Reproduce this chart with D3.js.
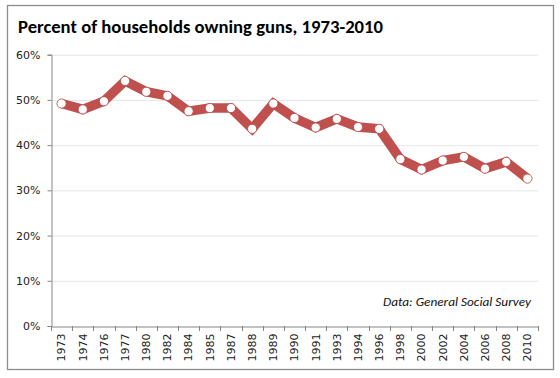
<!DOCTYPE html>
<html><head><meta charset="utf-8">
<script src="https://cdn.jsdelivr.net/npm/d3@7"></script>
<style>body{margin:0;background:#fff}svg{display:block}</style>
</head><body>
<svg id="c" width="560" height="378"></svg>
<script>
const years = ["1973","1974","1976","1977","1980","1982","1984","1985","1987","1988","1989","1990","1991","1993","1994","1996","1998","2000","2002","2004","2006","2008","2010"];
const values = [49.2,47.9,49.7,54.2,51.8,50.9,47.5,48.2,48.2,43.6,49.2,46.0,43.9,45.8,44.0,43.6,36.9,34.6,36.6,37.4,34.8,36.3,32.6];
const yTicks = [0,10,20,30,40,50,60];
const title = "Percent of households owning guns, 1973-2010";
const note = "Data: General Social Survey";

const svg = d3.select("#c");
svg.append("rect").attr("x",7.5).attr("y",5.5).attr("width",546).attr("height",364)
  .attr("fill","#fff").attr("stroke","#8c8c8c").attr("stroke-width",1.3);

const m = {l:51, r:538, t:54.7, b:326};
const x = d3.scaleBand().domain(years).range([m.l, m.r]);
const y = d3.scaleLinear().domain([0,60]).range([m.b, m.t]);

svg.append("text").attr("x",18).attr("y",33).text(title)
  .attr("font-family","Carlito, Lato, 'Open Sans', sans-serif").attr("font-weight","bold")
  .attr("font-size",18).attr("textLength",365).attr("lengthAdjust","spacingAndGlyphs").attr("fill","#000");

// gridlines
svg.append("g").selectAll("line").data(yTicks.filter(d=>d>0)).join("line")
  .attr("x1",m.l).attr("x2",m.r).attr("y1",d=>y(d)+0.5).attr("y2",d=>y(d)+0.5)
  .attr("stroke","#e6e6e6").attr("stroke-width",1);

// y axis
const ya = svg.append("g").attr("transform",`translate(${m.l+0.5},0)`)
  .call(d3.axisLeft(y).tickValues(yTicks).tickFormat(d=>d+"%").tickSize(4).tickPadding(7));
ya.select(".domain").attr("stroke","#868686");
ya.selectAll(".tick line").attr("stroke","#868686");
ya.selectAll("text").attr("font-family","Tahoma, 'DejaVu Sans', sans-serif").attr("font-size",11).attr("fill","#222");

// x axis
const xa = svg.append("g").attr("transform",`translate(0,${m.b+0.5})`)
  .call(d3.axisBottom(x).tickSize(0).tickPadding(0));
xa.select(".domain").attr("stroke","#868686");
xa.selectAll(".tick line").remove();
xa.selectAll(".tick text").attr("transform","rotate(-90)").attr("text-anchor","end")
  .attr("x",-7).attr("y",0).attr("dy","0.35em")
  .attr("font-family","Tahoma, 'DejaVu Sans', sans-serif").attr("font-size",11).attr("fill","#222");
const bounds = years.map(d=>x(d)).concat([m.r]);
svg.append("g").selectAll("line").data(bounds).join("line")
  .attr("x1",d=>Math.round(d)+0.5).attr("x2",d=>Math.round(d)+0.5)
  .attr("y1",m.b).attr("y2",m.b+5).attr("stroke","#868686");

// line
const line = d3.line().x((d,i)=>x(years[i])+x.bandwidth()/2).y(d=>y(d));
svg.append("path").datum(values).attr("d",line).attr("fill","none")
  .attr("stroke","#c0504d").attr("stroke-width",9.5).attr("stroke-linejoin","miter");
svg.append("g").selectAll("circle").data(values).join("circle")
  .attr("cx",(d,i)=>x(years[i])+x.bandwidth()/2).attr("cy",d=>y(d)).attr("r",4.6)
  .attr("fill","#fff").attr("stroke","#b8403d").attr("stroke-width",0.8);

svg.append("text").attr("x",531).attr("y",306).attr("text-anchor","end").text(note)
  .attr("font-family","Carlito, Lato, 'Open Sans', sans-serif").attr("font-style","italic")
  .attr("font-size",13).attr("textLength",148).attr("lengthAdjust","spacingAndGlyphs").attr("fill","#111");
</script>
</body></html>
